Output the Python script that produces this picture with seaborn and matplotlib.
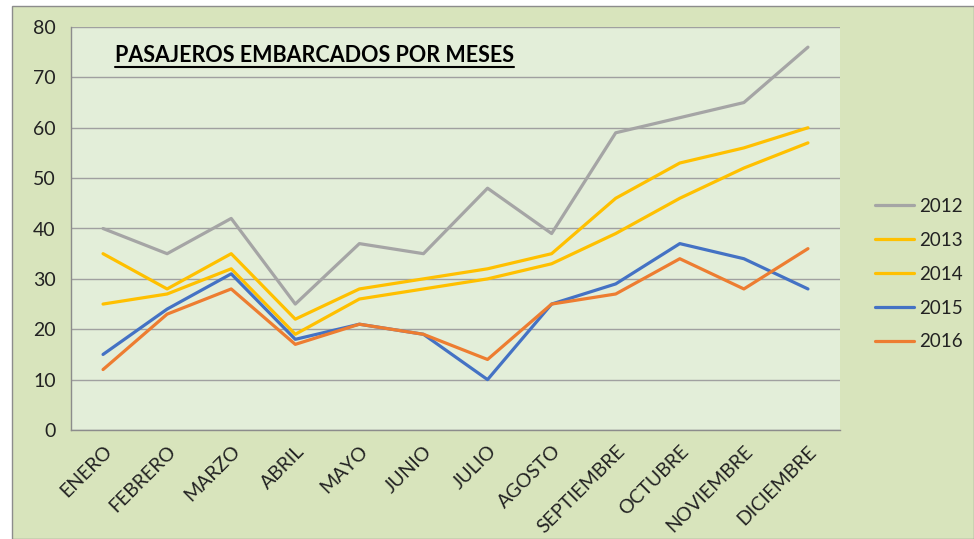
import pandas as pd
import matplotlib.pyplot as plt
import seaborn as sns
from matplotlib.patches import Rectangle
from matplotlib.lines import Line2D

meses = ["ENERO", "FEBRERO", "MARZO", "ABRIL", "MAYO", "JUNIO", "JULIO",
         "AGOSTO", "SEPTIEMBRE", "OCTUBRE", "NOVIEMBRE", "DICIEMBRE"]
y2012 = [40, 35, 42, 25, 37, 35, 48, 39, 59, 62, 65, 76]
y2013 = [35, 28, 35, 22, 28, 30, 32, 35, 46, 53, 56, 60]
y2014 = [25, 27, 32, 19, 26, 28, 30, 33, 39, 46, 52, 57]
y2015 = [15, 24, 31, 18, 21, 19, 10, 25, 29, 37, 34, 28]
y2016 = [12, 23, 28, 17, 21, 19, 14, 25, 27, 34, 28, 36]
anios = ["2012", "2013", "2014", "2015", "2016"]
colores = ["#A5A5A5", "#FFC000", "#FFC000", "#4472C4", "#ED7D31"]

series = {"2012": y2012, "2013": y2013, "2014": y2014, "2015": y2015, "2016": y2016}
rows = []
for a in anios:
    for i, v in enumerate(series[a]):
        rows.append({"idx": i, "Pasajeros": v, "Año": a})
df = pd.DataFrame(rows)

sns.set_style("white")
plt.rcParams['font.family'] = ['Lato', 'DejaVu Sans']

fig = plt.figure(figsize=(9.74, 5.39), dpi=100)
fig.patch.set_facecolor("white")
fondo = Rectangle((12 / 974, 0), 1 - 12 / 974, 1 - 6 / 539,
                  transform=fig.transFigure, facecolor="#D8E4BC",
                  edgecolor="#8C8C8C", linewidth=1, zorder=-10)
fig.patches.append(fondo)

ax = fig.add_axes([71 / 974, 1 - 430 / 539, (840 - 71) / 974, (430 - 27) / 539])
ax.set_zorder(1)
ax.set_facecolor("#E3EED9")

sns.lineplot(data=df, x="idx", y="Pasajeros", hue="Año", hue_order=anios,
             palette=dict(zip(anios, colores)), linewidth=2.3, ax=ax, legend=False)

ax.set_xlim(-0.5, 11.5)
ax.set_ylim(0, 80)
ax.set_yticks(range(0, 81, 10))
ax.yaxis.grid(True, color="#A0A0A0", linewidth=1)
ax.set_axisbelow(True)
ax.set_xticks(range(12))
ax.set_xticklabels(meses, rotation=45, ha="right", va="top", rotation_mode="anchor",
                   fontsize=14, color="#222222")
ax.set_xticks([i - 0.5 for i in range(13)], minor=True)
ax.tick_params(axis="x", which="major", length=0, pad=9)
ax.tick_params(axis="x", which="minor", length=5, color="#8C8C8C", width=1)
ax.tick_params(axis="y", length=5, color="#8C8C8C", width=1, labelsize=14,
               labelcolor="#222222", pad=6)
ax.set_xlabel("")
ax.set_ylabel("")
for s in ["top", "right"]:
    ax.spines[s].set_visible(False)
for s in ["left", "bottom"]:
    ax.spines[s].set_color("#8C8C8C")
    ax.spines[s].set_linewidth(1)

t = fig.text(115 / 974, 1 - 55 / 539, "PASAJEROS EMBARCADOS POR MESES",
             fontsize=15.5, fontweight="bold", ha="left", va="center", color="black",
             zorder=5)
fig.canvas.draw()
bb = t.get_window_extent()
uy = bb.y0 - 1
fig.lines.append(Line2D([bb.x0 / fig.bbox.width, bb.x1 / fig.bbox.width],
                        [uy / fig.bbox.height, uy / fig.bbox.height],
                        transform=fig.transFigure, color="black", linewidth=1.5,
                        zorder=5))

handles = [Line2D([], [], color=c, linewidth=2.3) for c in colores]
leg = fig.legend(handles, anios, loc="upper left", bbox_to_anchor=(858 / 974, 1 - 181 / 539),
                 frameon=False, fontsize=13.5, handlelength=2.1, labelspacing=0.9,
                 handletextpad=0.25)
for txt in leg.get_texts():
    txt.set_color("#222222")
leg.set_zorder(5)

fig.savefig("out.png", dpi=100, facecolor=fig.get_facecolor())
